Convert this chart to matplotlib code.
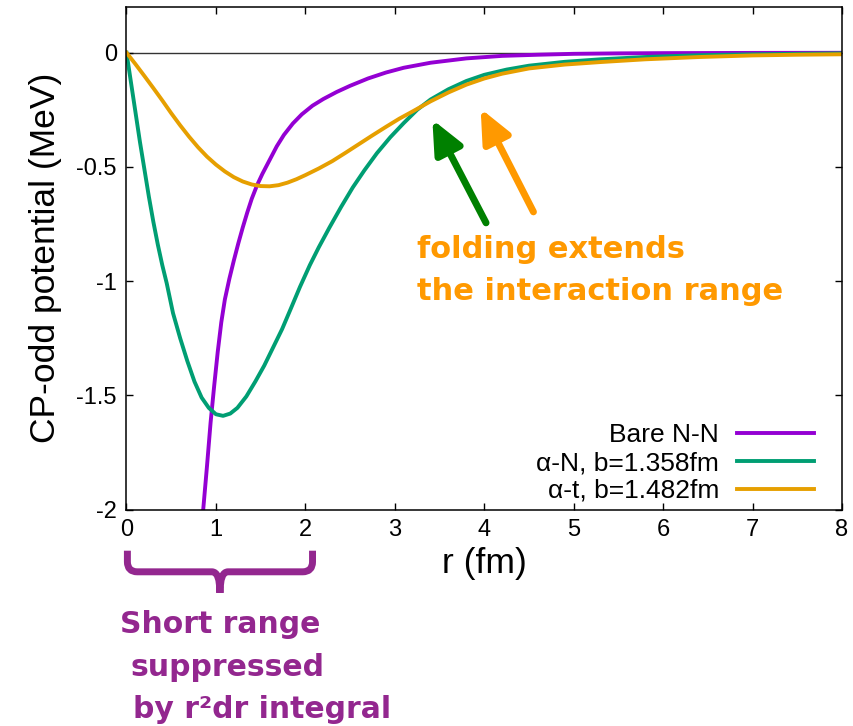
import numpy as np
import matplotlib
matplotlib.use("Agg")
import matplotlib.pyplot as plt
from matplotlib.path import Path
from matplotlib.patches import PathPatch
import matplotlib.transforms as mtrans

plt.rcParams['font.family'] = ['Liberation Sans', 'DejaVu Sans']
plt.rcParams['axes.unicode_minus'] = False

# 読み取り値 (r in fm, V in MeV)
r_bare = [0.84, 0.86, 0.90, 0.94, 0.98, 1.02, 1.06, 1.10, 1.15, 1.20, 1.25, 1.30,
          1.35, 1.40, 1.46, 1.52, 1.60, 1.68, 1.76, 1.86, 1.96, 2.08, 2.20, 2.35,
          2.50, 2.70, 2.90, 3.10, 3.40, 3.80, 4.20, 4.60, 5.00, 5.50, 6.00, 7.00, 8.00]
v_bare = [-2.08, -1.99, -1.81, -1.62, -1.46, -1.31, -1.18, -1.08, -0.99, -0.91, -0.835, -0.765,
          -0.70, -0.64, -0.58, -0.53, -0.47, -0.41, -0.36, -0.31, -0.27, -0.232, -0.203, -0.172,
          -0.145, -0.113, -0.087, -0.066, -0.044, -0.025, -0.014, -0.009, -0.005, -0.003, -0.002, -0.001, -0.0005]

r_aN = [0.0, 0.05, 0.10, 0.15, 0.20, 0.25, 0.30, 0.35, 0.40, 0.45, 0.52, 0.60, 0.68, 0.76,
        0.84, 0.92, 1.00, 1.08, 1.16, 1.24, 1.34, 1.44, 1.54, 1.64, 1.74, 1.84, 1.94, 2.05,
        2.15, 2.27, 2.40, 2.53, 2.66, 2.80, 2.95, 3.10, 3.25, 3.40, 3.60, 3.80, 4.00, 4.25,
        4.50, 4.90, 5.30, 5.80, 6.40, 7.00, 7.50, 8.00]
v_aN = [0.0, -0.13, -0.26, -0.39, -0.51, -0.63, -0.74, -0.84, -0.93, -1.01, -1.14, -1.25, -1.35, -1.44,
        -1.51, -1.555, -1.583, -1.59, -1.58, -1.555, -1.505, -1.44, -1.37, -1.29, -1.21, -1.118, -1.025, -0.93,
        -0.852, -0.765, -0.675, -0.59, -0.515, -0.44, -0.37, -0.308, -0.25, -0.205, -0.16, -0.124, -0.097, -0.074,
        -0.057, -0.040, -0.029, -0.019, -0.011, -0.007, -0.005, -0.003]

r_at = [0.0, 0.1, 0.2, 0.3, 0.4, 0.5, 0.6, 0.7, 0.8, 0.9, 1.0, 1.1, 1.2, 1.3, 1.4, 1.5, 1.6,
        1.7, 1.8, 1.9, 2.0, 2.15, 2.3, 2.45, 2.6, 2.75, 2.9, 3.05, 3.2, 3.4, 3.6, 3.8, 4.0,
        4.2, 4.5, 4.9, 5.3, 5.8, 6.4, 7.0, 7.5, 8.0]
v_at = [0.0, -0.05, -0.102, -0.155, -0.209, -0.265, -0.318, -0.368, -0.414, -0.455, -0.49, -0.52, -0.545,
        -0.564, -0.577, -0.584, -0.585, -0.58, -0.569, -0.554, -0.536, -0.507, -0.475, -0.438, -0.40,
        -0.362, -0.325, -0.289, -0.257, -0.213, -0.174, -0.14, -0.113, -0.092, -0.069, -0.052, -0.041,
        -0.029, -0.019, -0.012, -0.009, -0.007]

labels = ["Bare N-N", "α-N, b=1.358fm", "α-t, b=1.482fm"]
xticks = [0, 1, 2, 3, 4, 5, 6, 7, 8]
yticks = [0, -0.5, -1, -1.5, -2]
yticklabels = ["0", "-0.5", "-1", "-1.5", "-2"]

W, H = 854, 726
fig = plt.figure(figsize=(W / 100, H / 100), dpi=100)
ax = fig.add_axes([126.5 / W, 1 - 509.5 / H, (842 - 126.5) / W, (509.5 - 7) / H])

ax.axhline(0, color='#333333', lw=1.0, zorder=1)
ax.plot(r_bare, v_bare, color='#9400D3', lw=2.8, label=labels[0])
ax.plot(r_aN, v_aN, color='#009E73', lw=2.8, label=labels[1])
ax.plot(r_at, v_at, color='#E69F00', lw=2.8, label=labels[2])

ax.set_xlim(0, 8)
ax.set_ylim(-2, 0.2)
ax.set_xticks(xticks)
ax.set_xticklabels([str(t) for t in xticks])
ax.set_yticks(yticks)
ax.set_yticklabels(yticklabels)
ax.tick_params(direction='in', length=5, width=1, top=True, right=True, labelsize=17, pad=7)
for s in ax.spines.values():
    s.set_linewidth(1.1)

ax.set_ylabel("CP-odd potential (MeV)", fontsize=25.5, labelpad=10)
ax.set_xlabel("r (fm)", fontsize=25.5, labelpad=4)

ax.legend(loc='lower right', bbox_to_anchor=((814 - 126.5) / 715.5, 0.013), frameon=False,
          markerfirst=False, fontsize=19, handlelength=2.9, handletextpad=0.7,
          labelspacing=0.15, borderpad=0, borderaxespad=0)

# 矢印
ax.annotate("", xy=(3.42, -0.293), xytext=(4.02, -0.745),
            arrowprops=dict(arrowstyle='-|>,head_length=1.0,head_width=0.45', mutation_scale=20,
                            color='#008000', lw=5, shrinkA=0, shrinkB=0))
ax.annotate("", xy=(3.96, -0.245), xytext=(4.55, -0.697),
            arrowprops=dict(arrowstyle='-|>,head_length=1.0,head_width=0.45', mutation_scale=20,
                            color='#FF9900', lw=5, shrinkA=0, shrinkB=0))

orange = '#FF9900'
purple = '#93278F'
ofont = dict(family='DejaVu Sans', fontweight='bold', fontsize=22)
pfont = dict(family='DejaVu Sans', fontweight='bold', fontsize=21.5)
fig.text(417 / W, 1 - 258 / H, "folding extends", color=orange, ha='left', va='baseline', **ofont)
fig.text(417 / W, 1 - 300 / H, "the interaction range", color=orange, ha='left', va='baseline', **ofont)

fig.text(120 / W, 1 - 633 / H, "Short range", color=purple, ha='left', va='baseline', **pfont)
fig.text(131 / W, 1 - 676 / H, "suppressed", color=purple, ha='left', va='baseline', **pfont)
fig.text(133 / W, 1 - 718 / H, "by r²dr integral", color=purple, ha='left', va='baseline', **pfont)

# 括弧
tr = mtrans.blended_transform_factory(ax.transData, ax.transAxes)
ya, yb, yc = -0.082, -0.124, -0.166
xl, xm, xr = 0.01, 1.045, 2.08
verts = [(xl, ya), (xl, yb + 0.02), (xl, yb), (xl + 0.11, yb),
         (xm - 0.09, yb), (xm, yb), (xm, yc),
         (xm, yc), (xm, yb), (xm + 0.09, yb),
         (xr - 0.11, yb), (xr, yb), (xr, yb + 0.02), (xr, ya)]
codes = [Path.MOVETO, Path.LINETO, Path.CURVE3, Path.CURVE3,
         Path.LINETO, Path.CURVE3, Path.CURVE3,
         Path.MOVETO, Path.CURVE3, Path.CURVE3,
         Path.LINETO, Path.CURVE3, Path.CURVE3, Path.LINETO]
brace = PathPatch(Path(verts, codes), transform=tr, fill=False, edgecolor=purple,
                  lw=5, clip_on=False, capstyle='butt', joinstyle='round')
ax.add_patch(brace)

fig.savefig("out.png", dpi=100)
